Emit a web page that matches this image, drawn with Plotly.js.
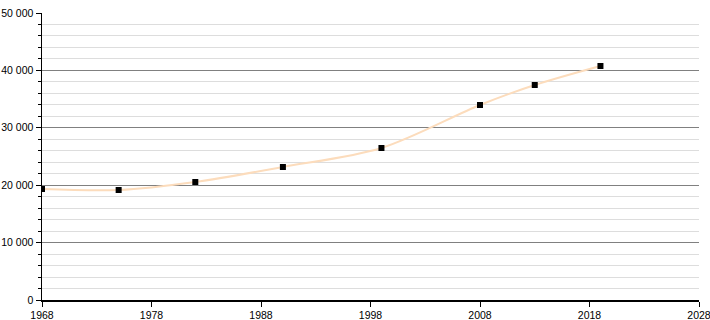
<!DOCTYPE html>
<html><head><meta charset="utf-8">
<script src="https://cdn.plot.ly/plotly-3.0.1.min.js"></script>
<style>html,body{margin:0;padding:0;background:#fff}#chart{width:710px;height:320px}</style>
</head><body><div id="chart"></div>
<script>
const years = [1968, 1975, 1982, 1990, 1999, 2008, 2013, 2019];
const population = [19340, 19160, 20560, 23170, 26480, 33970, 37460, 40770];
const xTicks = [1968, 1978, 1988, 1998, 2008, 2018, 2028];

const traces = [
  {x: years, y: population, type: 'scatter', mode: 'lines',
   line: {shape: 'spline', smoothing: 0.9, color: '#fcdcbc', width: 2}, hoverinfo: 'skip'},
  {x: years, y: population, type: 'scatter', mode: 'markers',
   marker: {symbol: 'square', size: 6, color: '#000'}}
];
const layout = {
  width: 710, height: 320, showlegend: false,
  margin: {l: 42, r: 11, t: 13, b: 20},
  paper_bgcolor: '#fff', plot_bgcolor: '#fff',
  separators: ', ',
  font: {family: 'Liberation Sans, Arial, sans-serif', size: 10.5, color: '#000'},
  xaxis: {range: [1968, 2028], tickvals: xTicks, ticks: 'outside', ticklen: 5, tickcolor: '#000',
          showline: true, linecolor: '#000', linewidth: 1.5, showgrid: false, zeroline: false,
          ticklabeloverflow: 'allow', fixedrange: true},
  yaxis: {range: [0, 50000], dtick: 10000, tickformat: ',d', ticks: 'outside', ticklen: 5, tickcolor: '#000',
          showline: true, linecolor: '#000', linewidth: 1.5, showgrid: true, gridcolor: '#808080', gridwidth: 1,
          zeroline: false, ticklabelstandoff: 0, ticklabeloverflow: 'allow',
          minor: {dtick: 2000, showgrid: true, gridcolor: '#dddddd', gridwidth: 1, ticks: 'outside', ticklen: 3, tickcolor: '#000'}}
};
Plotly.newPlot('chart', traces, layout, {staticPlot: true});
</script></body></html>
